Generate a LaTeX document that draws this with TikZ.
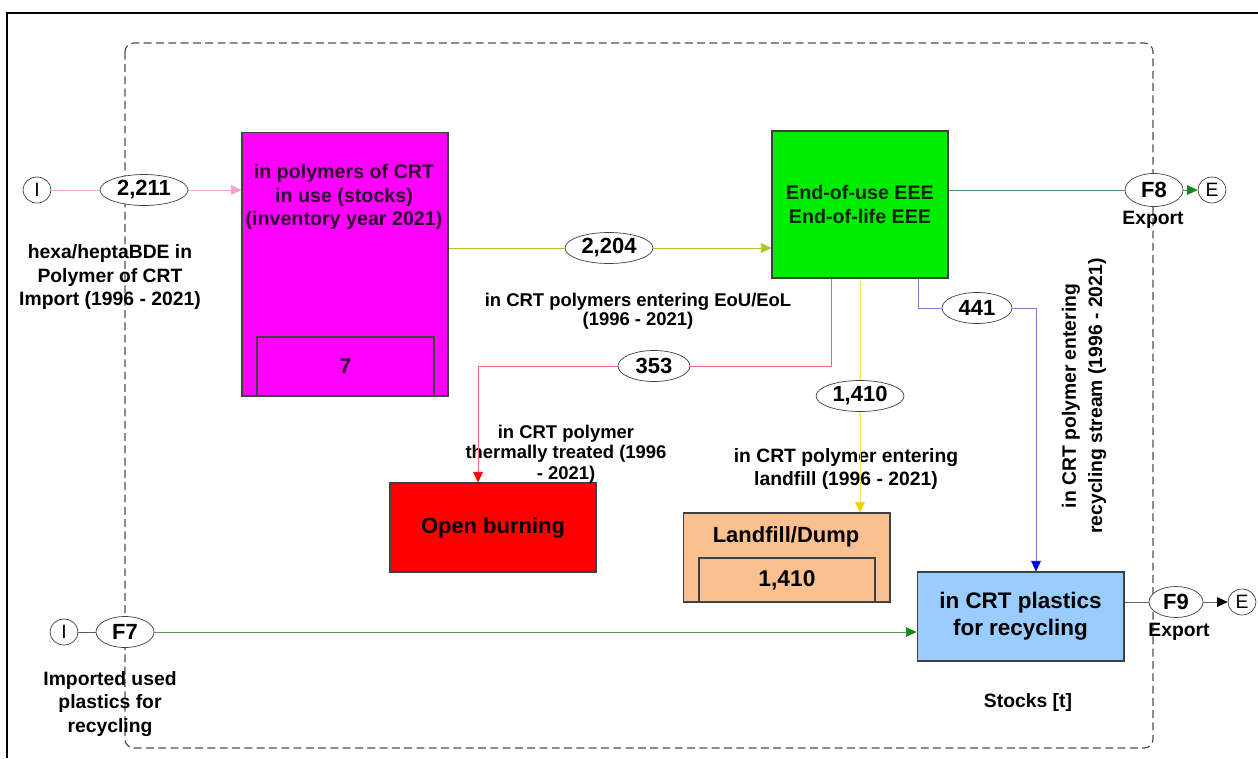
\documentclass[tikz,border=0pt]{standalone}
\usepackage{fontspec}
\setmainfont{Liberation Sans}
\usetikzlibrary{shapes.geometric, arrows.meta}

\definecolor{usemag}{RGB}{255,0,255}
\definecolor{usetext}{RGB}{45,0,45}
\definecolor{eeegreen}{RGB}{0,236,0}
\definecolor{burnred}{RGB}{255,0,0}
\definecolor{landpeach}{RGB}{250,192,144}
\definecolor{recyblue}{RGB}{153,204,255}
\definecolor{pinkline}{RGB}{240,165,200}
\definecolor{ygline}{RGB}{165,200,40}
\definecolor{dgline}{RGB}{80,155,80}
\definecolor{dgtip}{RGB}{25,135,25}
\definecolor{redline}{RGB}{240,105,105}
\definecolor{yline}{RGB}{255,225,90}
\definecolor{ytip}{RGB}{255,205,0}
\definecolor{bline}{RGB}{125,125,215}
\definecolor{btip}{RGB}{0,0,240}
\definecolor{frameg}{RGB}{80,80,80}

\newcommand{\fsz}[2]{\fontsize{#1}{#2}\selectfont}

\begin{document}
\begin{tikzpicture}[x=0.02cm, y=-0.02cm,
    box/.style={draw=black!75, line width=0.6pt, inner sep=0pt, align=center},
    flow/.style={ellipse, draw=black!75, fill=white, inner sep=0pt,
      minimum width=1.76cm, minimum height=0.62cm, font=\bfseries\fsz{12.5}{14}},
    term/.style={ellipse, draw=black!75, fill=white, inner sep=0pt,
      minimum width=0.56cm, minimum height=0.52cm, font=\fsz{11}{13}},
    lbl/.style={align=center, inner sep=0pt, font=\bfseries\fsz{11}{13.5}},
    head/.style={-{Triangle[length=6pt, width=5.5pt, color=#1]}}]

    % Frame
    \useasboundingbox (0,0) rectangle (1258,758);
    \draw[line width=0.9pt] (7,758) -- (7,13) -- (1258,13);
    \draw[frameg, line width=0.7pt, dash pattern=on 4.5pt off 2.5pt, rounded corners=5pt]
      (125,43) rectangle (1153,748);

    % Nodes
    \node[term] (I1) at (37,190) {I};
    \node[flow] (f2211) at (144,190) {2,211};
    \node[box, fill=usemag, minimum width=4.12cm, minimum height=5.28cm] (use) at (345,264) {};
    \node[box, fill=usemag, minimum width=3.54cm, minimum height=1.18cm,
      font=\bfseries\fsz{12}{14}, text=usetext] (usein) at (345.5,366.5) {7};
    \node[lbl, text=usetext, font=\bfseries\fsz{11.2}{13.3}] (uset) at (344,197)
      {in polymers of CRT\\in use (stocks)\\(inventory year 2021)};

    \node[box, fill=eeegreen, minimum width=3.52cm, minimum height=2.94cm,
      font=\bfseries\fsz{11.2}{14}, text=black!85!green] (eee) at (860,204.5)
      {End-of-use EEE\\End-of-life EEE};
    \node[flow] (f2204) at (609,248) {2,204};
    \node[flow, minimum width=1.44cm] (f353) at (654,366) {353};
    \node[flow] (f1410) at (860,396) {1,410};
    \node[flow, minimum width=1.4cm] (f441) at (977,308) {441};

    \node[box, fill=burnred, minimum width=4.12cm, minimum height=1.78cm,
      font=\bfseries\fsz{12.5}{15}] (burn) at (493,527.5) {Open burning};
    \node[box, fill=landpeach, minimum width=4.14cm, minimum height=1.78cm] (land) at (786.5,557.5) {};
    \node[box, fill=landpeach, minimum width=3.52cm, minimum height=0.88cm,
      font=\bfseries\fsz{13}{15}] (landin) at (787,580) {1,410};
    \node[lbl, font=\bfseries\fsz{12.5}{15}] (landt) at (786,537) {Landfill/Dump};
    \node[box, fill=recyblue, minimum width=4.14cm, minimum height=1.78cm,
      font=\bfseries\fsz{12.8}{15.3}] (recy) at (1020.5,616.5) {in CRT plastics\\for recycling};

    \node[flow, minimum width=1.16cm, minimum height=0.66cm] (f8) at (1154,190) {F8};
    \node[term] (e8) at (1212,190) {E};
    \node[flow, minimum width=1.08cm] (f9) at (1176,602) {F9};
    \node[term] (e9) at (1242,602) {E};
    \node[term] (I2) at (64,632) {I};
    \node[flow, minimum width=1.16cm] (f7) at (125,632) {F7};

    % Labels
    \node[lbl] (impt) at (110,277) {hexa/heptaBDE in\\Polymer of CRT\\Import (1996 - 2021)};
    \node[lbl] (impu) at (110,704) {Imported used\\plastics for\\recycling};
    \node[lbl, font=\bfseries\fsz{10.5}{10.8}] (eoul) at (638,311)
      {in CRT polymers entering EoU/EoL\\(1996 - 2021)};
    \node[lbl, font=\bfseries\fsz{10.5}{11.8}] (therm) at (566,454)
      {in CRT polymer\\thermally treated (1996\\- 2021)};
    \node[lbl, font=\bfseries\fsz{11}{12.8}] (landl) at (846,469)
      {in CRT polymer entering\\landfill (1996 - 2021)};
    \node[lbl, rotate=90, font=\bfseries\fsz{11}{15}] (recyl) at (1084,396)
      {in CRT polymer entering\\recycling stream (1996 - 2021)};
    \node[lbl] (x8) at (1153,220) {Export};
    \node[lbl] (x9) at (1179,632) {Export};
    \node[lbl] (stock) at (1028,702) {Stocks [t]};

    % Bends
    \coordinate (rc) at (831,366);
    \coordinate (rl) at (478,366);
    \coordinate (bl) at (918,308);
    \coordinate (br) at (1036,308);

    % Edges
    \draw[pinkline, head=pinkline] (I1) -- (f2211) -- (use.west |- f2211);
    \draw[ygline, head=ygline] (use.east |- f2204) -- (f2204) -- (eee.west |- f2204);
    \draw[dgline] (eee.east |- f8) -- (f8);
    \draw[dgline, head=dgtip] (f8) -- (e8);
    \draw[redline, head=burnred] (eee.south -| rc) -- (rc) -- (f353) -- (rl) -- (burn.north -| rl);
    \draw[yline, head=ytip] (eee.south -| f1410) -- (f1410) -- (land.north -| f1410);
    \draw[bline, head=btip] (eee.south -| bl) -- (bl) -- (f441) -- (br) -- (recy.north -| br);
    \draw[black!65] (I2) -- (f7);
    \draw[dgline, head=dgtip] (f7) -- (recy.west |- f7);
    \draw[black!60] (recy.east |- f9) -- (f9);
    \draw[black!60, head=black] (f9) -- (e9);
\end{tikzpicture}
\end{document}
